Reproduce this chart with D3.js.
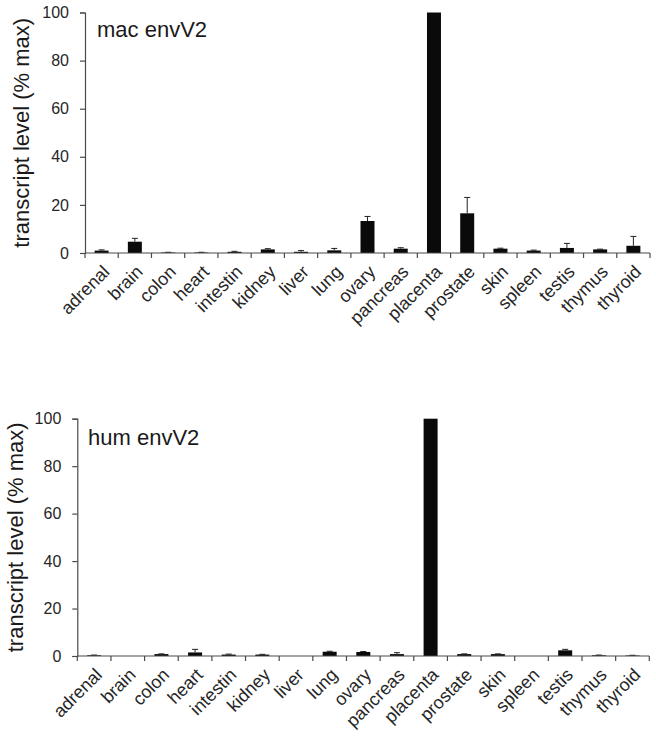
<!DOCTYPE html>
<html><head><meta charset="utf-8">
<script src="https://cdn.jsdelivr.net/npm/d3@7"></script>
<style>body{margin:0;background:#fff}svg{display:block}</style>
</head><body>
<script>
const categories = ["adrenal","brain","colon","heart","intestin","kidney","liver","lung","ovary","pancreas","placenta","prostate","skin","spleen","testis","thymus","thyroid"];
const macValues = [1.0,4.7,0.2,0.2,0.5,1.5,0.5,1.1,13.3,1.8,100,16.5,1.8,1.0,2.1,1.5,3.0];
const macErrors = [0.3,1.4,0.1,0.1,0.2,0.3,0.5,0.8,1.9,0.4,0,6.6,0.2,0.2,1.9,0.1,3.9];
const humValues = [0.3,0,0.8,1.5,0.6,0.6,0,1.8,1.7,0.8,100,0.8,0.8,0,2.4,0.3,0.2];
const humErrors = [0.1,0,0.1,1.3,0.2,0.1,0,0.2,0.2,0.6,0,0.1,0.1,0,0.4,0.1,0.1];
const yTicks = [0,20,40,60,80,100];
const panelTitles = ["mac envV2","hum envV2"];
const yTitle = "transcript level (% max)";

const W=656,H=739;
const FONT="'Liberation Sans', Arial, sans-serif";
const svg=d3.select("body").append("svg").attr("width",W).attr("height",H)
  .style("font-family",FONT);

const panels=[
  {title:panelTitles[0],values:macValues,errors:macErrors,x0:85,x1:650,y0:253,y1:12.5,titleX:97,titleY:37,yLabX:23.5},
  {title:panelTitles[1],values:humValues,errors:humErrors,x0:77.3,x1:649.3,y0:656,y1:418.7,titleX:88,titleY:445,yLabX:17}
];
const axisCol="#4a4a4a", textCol="#262626";

panels.forEach(p=>{
  const g=svg.append("g");
  const x=d3.scaleBand().domain(categories).range([p.x0,p.x1]).paddingInner(0).paddingOuter(0);
  const y=d3.scaleLinear().domain([0,100]).range([p.y0,p.y1]);
  const bw=14;
  g.selectAll("rect.bar").data(categories).join("rect")
    .attr("x",d=>x(d)+x.bandwidth()/2-bw/2)
    .attr("width",bw)
    .attr("y",(d,i)=>y(p.values[i]))
    .attr("height",(d,i)=>Math.max(0,y(0)-y(p.values[i])))
    .attr("fill","#0a0a0a");
  categories.forEach((c,i)=>{
    const e=p.errors[i]; if(!e) return;
    const cx=x(c)+x.bandwidth()/2;
    g.append("line").attr("x1",cx).attr("x2",cx).attr("y1",y(p.values[i])).attr("y2",y(p.values[i]+e))
      .attr("stroke","#222").attr("stroke-width",1);
    g.append("line").attr("x1",cx-3).attr("x2",cx+3).attr("y1",y(p.values[i]+e)).attr("y2",y(p.values[i]+e))
      .attr("stroke","#222").attr("stroke-width",1);
  });
  const ya=g.append("g").attr("transform",`translate(${p.x0},0)`)
    .call(d3.axisLeft(y).tickValues(yTicks).tickSize(5).tickPadding(11));
  ya.select(".domain").attr("stroke",axisCol).attr("stroke-width",1.2);
  ya.selectAll(".tick line").attr("stroke",axisCol).attr("stroke-width",1.2);
  ya.selectAll(".tick text").attr("fill",textCol).style("font-size","16px").style("font-family",FONT);
  const xa=g.append("g").attr("transform",`translate(0,${p.y0})`);
  xa.append("line").attr("x1",p.x0).attr("x2",p.x1).attr("stroke",axisCol).attr("stroke-width",1.2);
  const bounds=categories.map(c=>x(c)).concat([p.x1]);
  xa.selectAll("line.tk").data(bounds).join("line").attr("class","tk")
    .attr("x1",d=>d).attr("x2",d=>d).attr("y1",0).attr("y2",5)
    .attr("stroke",axisCol).attr("stroke-width",1.2);
  xa.selectAll("text").data(categories).join("text")
    .attr("transform",d=>`translate(${x(d)+x.bandwidth()/2+9},${20}) rotate(-45)`)
    .attr("text-anchor","end")
    .attr("fill",textCol).style("font-size","18px")
    .text(d=>d);
  g.append("text").attr("x",p.titleX).attr("y",p.titleY).attr("fill","#1a1a1a").style("font-size","22px").text(p.title);
  g.append("text").attr("transform",`translate(${p.yLabX},${(p.y0+p.y1)/2}) rotate(-90)`)
    .attr("text-anchor","middle").attr("dominant-baseline","middle")
    .attr("fill","#1a1a1a").style("font-size","22px").text(yTitle);
});
</script>
</body></html>
